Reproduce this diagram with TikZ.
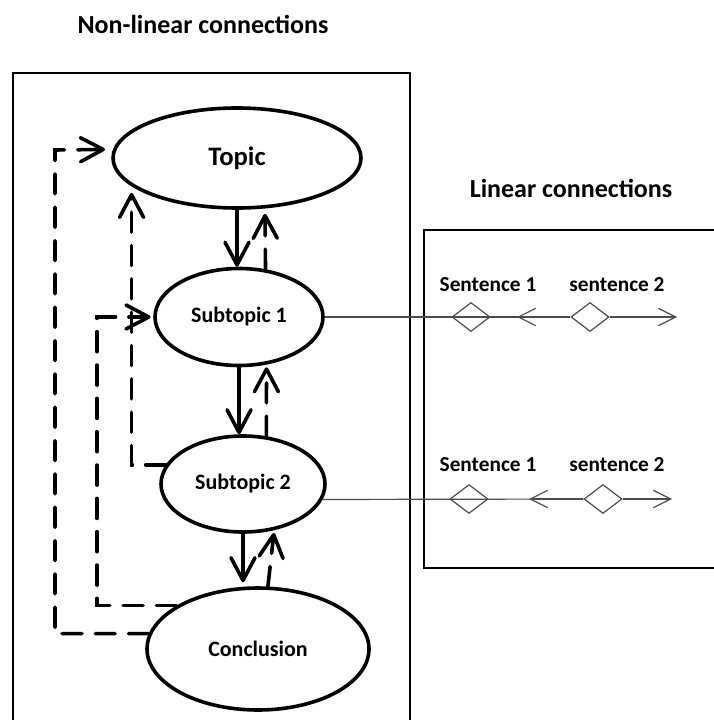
\documentclass[tikz,border=0pt]{standalone}
\usepackage{fontspec}
\setmainfont{Carlito}
\usetikzlibrary{arrows.meta,shapes.geometric}

\begin{document}
\begin{tikzpicture}[x=0.75pt,y=-0.75pt]
    \tikzstyle{every node}+=[inner sep=0pt]
    \tikzstyle{bubble}=[draw=black, ellipse, line width=2.7pt, font=\bfseries\fontsize{16.5}{19}\selectfont]
    \tikzstyle{flow}=[black, line width=2.7pt, line cap=round, -{Straight Barb[length=17pt,width=18pt,round]}]
    \tikzstyle{back}=[flow, dash pattern=on 15pt off 10pt]
    \tikzstyle{link}=[black!70, line width=0.9pt]
    \tikzstyle{linkarr}=[link, -{Straight Barb[length=13pt,width=13pt]}]
    \tikzstyle{diam}=[draw=black!70, line width=0.9pt, diamond, aspect=1.3, minimum width=28.5pt, minimum height=21.75pt]
    \tikzstyle{heading}=[font=\bfseries\fontsize{19.5}{23}\selectfont]
    \tikzstyle{sent}=[font=\bfseries\fontsize{16}{19}\selectfont]
    \useasboundingbox (0,0) rectangle (713,720);
    \draw [black, line width=2.1pt] (13,73) rectangle (410,740);
    \draw [black, line width=2.1pt] (424,230) rectangle (730,568);
    \node [heading] (nl) at (203,24) {Non-linear connections};
    \node [heading] (ln) at (571,188) {Linear connections};
    \node [bubble, minimum width=186pt, minimum height=75pt, font=\bfseries\fontsize{20}{23}\selectfont] (topic) at (237,158) {Topic};
    \node [bubble, minimum width=126pt, minimum height=72.75pt] (sub1) at (239,317) {Subtopic 1};
    \node [bubble, minimum width=123pt, minimum height=72pt] (sub2) at (243,484) {Subtopic 2};
    \node [bubble, minimum width=166.5pt, minimum height=91.5pt] (conc) at (258,649) {Conclusion};
    \draw [flow] (topic.south) -- (topic.south |- sub1.north);
    \draw [back, shorten >=4pt] (sub1.61) -- (topic.299);
    \draw [flow] (sub1.south) -- (sub1.south |- sub2.north);
    \draw [back, shorten >=2pt] (sub2.64) -- (sub1.300);
    \draw [flow, shorten >=3pt] (sub2.south) -- (sub2.south |- conc.north);
    \draw [back, shorten >=2pt] (conc.81) -- (sub2.304);
    \draw [back, shorten >=5pt] (sub2.166) -| (topic.195);
    \draw [back, shorten >=2pt] (conc.152) -| (97,317) -- (sub1.west);
    \draw [back, shorten >=6pt] (conc.172) -| (55,150) -- (topic.176);
    \node [sent] (s11) at (488,285) {Sentence 1};
    \node [sent] (s12) at (617,285) {sentence 2};
    \node [diam] (d11) at (471,317) {};
    \node [diam] (d12) at (590,317) {};
    \coordinate (la1) at (517,317);
    \coordinate (ra1) at (677,317);
    \draw [link] (sub1.east) -- (d12.west);
    \draw [linkarr] (d12.west) -- (la1);
    \draw [linkarr] (d12.east) -- (ra1);
    \node [sent] (s21) at (488,465) {Sentence 1};
    \node [sent] (s22) at (617,465) {sentence 2};
    \node [diam] (d21) at (469,499) {};
    \node [diam] (d22) at (603,499) {};
    \coordinate (la2) at (529,499);
    \coordinate (ra2) at (672,499);
    \draw [link] (sub2.349) -- (d22.west);
    \draw [linkarr] (d22.west) -- (la2);
    \draw [linkarr] (d22.east) -- (ra2);
\end{tikzpicture}
\end{document}
